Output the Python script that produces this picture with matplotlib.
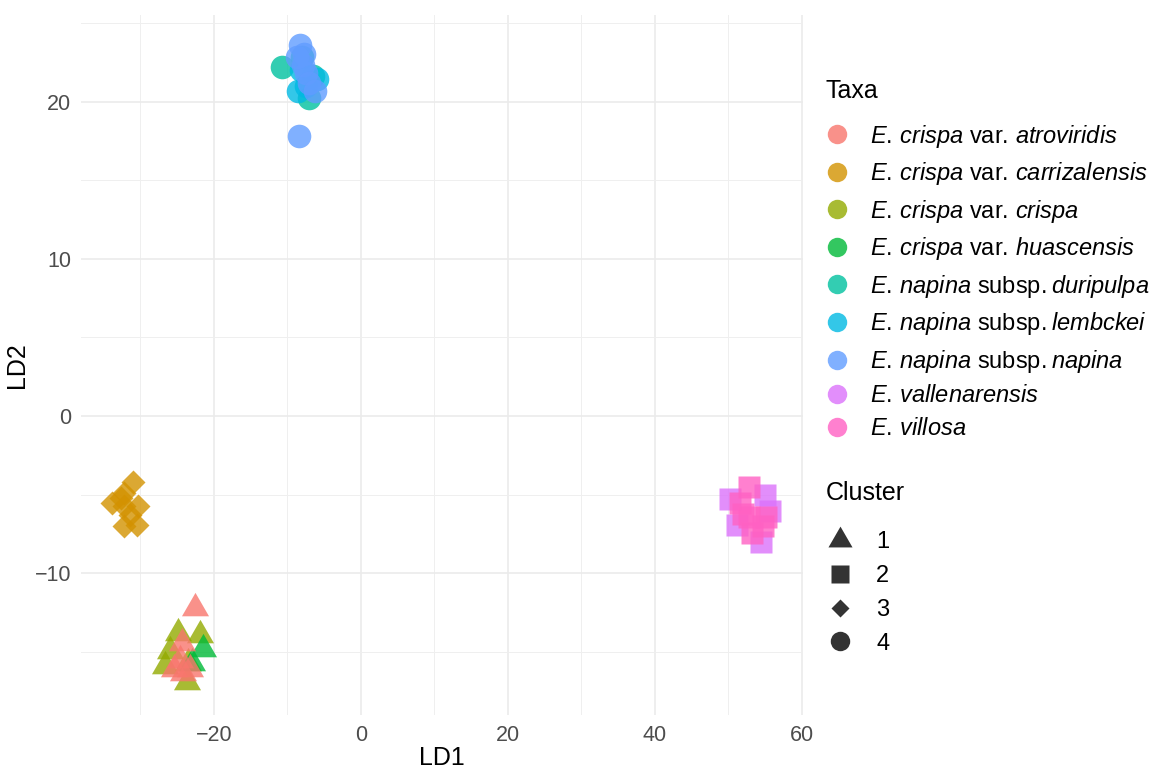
import numpy as np
import matplotlib
matplotlib.use("Agg")
import matplotlib.pyplot as plt
from matplotlib.lines import Line2D
from matplotlib.ticker import MultipleLocator

plt.rcParams["font.family"] = ["Liberation Sans", "DejaVu Sans"]
plt.rcParams["mathtext.fontset"] = "custom"
plt.rcParams["mathtext.rm"] = "Liberation Sans"
plt.rcParams["mathtext.it"] = "Liberation Sans:italic"

# taxa, in legend order, with ggplot default hues
taxa = ["atroviridis", "carrizalensis", "crispa", "huascensis",
        "duripulpa", "lembckei", "napina", "vallenarensis", "villosa"]
# mathtext adds a small space after "." by itself, \, tops it up
taxa_labels = [
    r"$\it{E.\,crispa}$ var. $\it{atroviridis}$",
    r"$\it{E.\,crispa}$ var. $\it{carrizalensis}$",
    r"$\it{E.\,crispa}$ var. $\it{crispa}$",
    r"$\it{E.\,crispa}$ var. $\it{huascensis}$",
    r"$\it{E.\,napina}$ subsp.$\:\it{duripulpa}$",
    r"$\it{E.\,napina}$ subsp.$\:\it{lembckei}$",
    r"$\it{E.\,napina}$ subsp.$\:\it{napina}$",
    r"$\it{E.\,vallenarensis}$",
    r"$\it{E.\,villosa}$",
]
colors = ["#F8766D", "#D39200", "#93AA00", "#00BA38", "#00C19F",
          "#00B9E3", "#619CFF", "#DB72FB", "#FF61C3"]

clusters = ["1", "2", "3", "4"]

# LDA scores per taxon
crispa_ld1 = [-21.9, -24.9, -26.0, -26.7, -23.5, -23.7]
crispa_ld2 = [-13.9, -13.8, -14.9, -15.9, -15.7, -16.9]
huascensis_ld1 = [-21.5, -23.0]
huascensis_ld2 = [-14.8, -15.7]
atroviridis_ld1 = [-22.6, -24.4, -24.6, -25.5, -23.3, -24.2]
atroviridis_ld2 = [-12.2, -14.4, -15.5, -16.1, -16.1, -16.3]
carrizalensis_ld1 = [-31.0, -32.3, -33.9, -32.3, -30.3, -31.4, -32.3, -30.5, -32.6]
carrizalensis_ld2 = [-4.2, -4.9, -5.5, -5.7, -5.7, -6.3, -7.0, -6.9, -5.2]
duripulpa_ld1 = [-10.7, -7.0, -6.5, -8.0]
duripulpa_ld2 = [22.2, 20.2, 21.6, 22.8]
lembckei_ld1 = [-8.6, -6.0, -7.5, -8.2]
lembckei_ld2 = [20.7, 21.4, 21.0, 22.0]
napina_ld1 = [-8.3, -7.8, -7.9, -7.4, -7.0, -6.2, -8.4, -8.7]
napina_ld2 = [23.6, 23.0, 22.3, 21.8, 21.2, 20.7, 17.8, 22.8]
vallenarensis_ld1 = [50.2, 55.7, 54.5, 51.2, 55.0]
vallenarensis_ld2 = [-5.3, -6.0, -8.0, -6.9, -5.0]
villosa_ld1 = [52.9, 51.6, 52.9, 54.7, 53.3, 55.2, 52.0]
villosa_ld2 = [-4.5, -5.5, -6.4, -7.0, -7.4, -6.4, -6.2]

# (taxon, LD1, LD2, cluster) in drawing order
groups = [
    ("crispa", crispa_ld1, crispa_ld2, "1"),
    ("huascensis", huascensis_ld1, huascensis_ld2, "1"),
    ("atroviridis", atroviridis_ld1, atroviridis_ld2, "1"),
    ("carrizalensis", carrizalensis_ld1, carrizalensis_ld2, "3"),
    ("duripulpa", duripulpa_ld1, duripulpa_ld2, "4"),
    ("lembckei", lembckei_ld1, lembckei_ld2, "4"),
    ("napina", napina_ld1, napina_ld2, "4"),
    ("vallenarensis", vallenarensis_ld1, vallenarensis_ld2, "2"),
    ("villosa", villosa_ld1, villosa_ld2, "2"),
]

# equilateral triangle like R's pch 17
tri = [(-1, -0.577), (1, -0.577), (0, 1.155)]
cluster_markers = {"1": tri, "2": "s", "3": "D", "4": "o"}
marker_size = {"1": 22.5, "2": 16.5, "3": 12.5, "4": 17}
alpha = 0.8
W, H = 1149, 768

fig = plt.figure(figsize=(W / 100, H / 100), dpi=100)
ax = fig.add_axes([81 / W, 53 / H, 722 / W, 700 / H])

for name, x, y, cl in groups:
    c = colors[taxa.index(name)]
    ax.plot(x, y, ls="", marker=cluster_markers[cl], ms=marker_size[cl],
            color=c, alpha=alpha, mec="none")

ax.set_xlim(-38.1, 60.2)
ax.set_ylim(-19.0, 25.5)
ax.xaxis.set_minor_locator(MultipleLocator(10))
ax.yaxis.set_minor_locator(MultipleLocator(5))
ax.set_xticks([-20, 0, 20, 40, 60])
ax.set_xticklabels(["\u221220", "0", "20", "40", "60"])
ax.set_yticks([-10, 0, 10, 20])
ax.set_yticklabels(["\u221210", "0", "10", "20"])

ax.grid(True, which="major", color="#EBEBEB", lw=1.2)
ax.grid(True, which="minor", color="#EFEFEF", lw=0.7)
ax.set_axisbelow(True)
for s in ax.spines.values():
    s.set_visible(False)
ax.tick_params(which="both", length=0, labelsize=15.5, labelcolor="#4D4D4D")
ax.tick_params(axis="x", pad=7)
ax.tick_params(axis="y", pad=7)

ax.set_xlabel("LD1", fontsize=18, labelpad=0)
ax.set_ylabel("LD2", fontsize=18, labelpad=4)

# colour legend
fig.text(826 / W, 1 - 91 / H, "Taxa", fontsize=18, va="center", ha="left")
taxa_handles = [Line2D([], [], ls="", marker="o", ms=14, color=c, alpha=alpha, mec="none")
                for c in colors]
fig.legend(taxa_handles, taxa_labels, loc="upper left",
           bbox_to_anchor=(826.4 / W, 1 - 122.5 / H), frameon=False,
           fontsize=17, borderpad=0, borderaxespad=0,
           handlelength=0.9, handletextpad=0.95, labelspacing=0.447)

# shape legend
fig.text(826 / W, 1 - 493 / H, "Cluster", fontsize=18, va="center", ha="left")
shape_markers = [tri, "s", "D", "o"]
shape_sizes = [20, 13.5, 9.5, 14]
shape_handles = [Line2D([], [], ls="", marker=m, ms=s, color="#333333", mec="none")
                 for m, s in zip(shape_markers, shape_sizes)]
fig.legend(shape_handles, clusters, loc="upper left",
           bbox_to_anchor=(829.4 / W, 1 - 531.5 / H), frameon=False,
           fontsize=17, borderpad=0, borderaxespad=0,
           handlelength=0.9, handletextpad=1.08, labelspacing=0.495)

fig.savefig("out.png", dpi=100)
